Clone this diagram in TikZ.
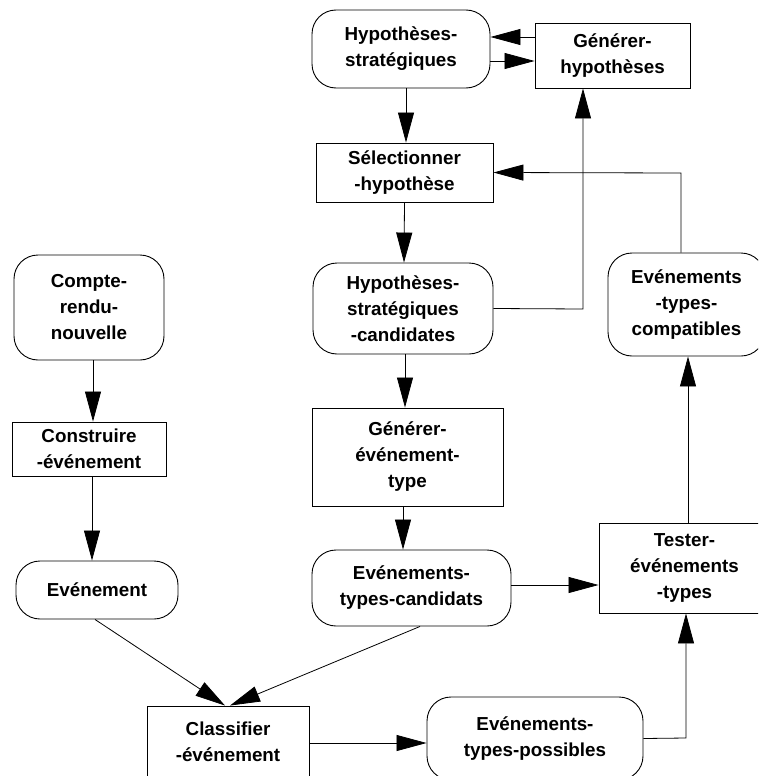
\documentclass[tikz,border=0pt]{standalone}
\usepackage{fontspec}
\newfontfamily\labfont{Liberation Sans}
\usetikzlibrary{arrows.meta,calc}
\tikzset{
  base/.style={draw=black, line width=0.9pt, align=center, inner sep=0pt,
    font=\labfont\bfseries\fontsize{18.8}{26}\selectfont},
  procbox/.style={base, rectangle},
  databox/.style={base, rectangle, rounded corners=24pt},
  conn/.style={line width=0.8pt, draw=black},
  arr/.style={conn, -{Triangle[length=30pt,width=16pt]}}
}
\begin{document}
\begin{tikzpicture}[x=1pt,y=-1pt]
\useasboundingbox (0,0) rectangle (758,776);
\clip (0,0) rectangle (758,776);
% nodes
\node[databox, minimum width=178pt, minimum height=78pt] (hs) at (401,49) {Hypothèses-\\stratégiques};
\node[procbox, minimum width=155pt, minimum height=65pt] (gh) at (612.5,55.5) {Générer-\\hypothèses};
\node[procbox, minimum width=177pt, minimum height=59pt] (sh) at (404.5,172.5) {Sélectionner\\-hypothèse};
\node[databox, minimum width=180pt, minimum height=91pt] (hsc) at (403,308.5) {Hypothèses-\\stratégiques\\-candidates};
\node[databox, minimum width=157pt, minimum height=103pt] (etc) at (686.5,304.5) {Evénements\\-types-\\compatibles};
\node[procbox, minimum width=191pt, minimum height=98pt] (get) at (407.5,457) {Générer-\\événement-\\type};
\node[databox, minimum width=199pt, minimum height=76pt] (etcand) at (411.5,588) {Evénements-\\types-candidats};
\node[procbox, minimum width=171pt, minimum height=90pt] (tst) at (684.5,568) {Tester-\\événements\\-types};
\node[databox, minimum width=150pt, minimum height=105pt] (cr) at (89,307.5) {Compte-\\rendu-\\nouvelle};
\node[procbox, minimum width=154pt, minimum height=54pt] (ce) at (89,449) {Construire\\-événement};
\node[databox, minimum width=162pt, minimum height=58pt] (ev) at (97,590) {Evénement};
\node[procbox, minimum width=162pt, minimum height=72pt] (cl) at (228,742) {Classifier\\-événement};
\node[databox, minimum width=216pt, minimum height=83pt] (etp) at (535,738.5) {Evénements-\\types-possibles};
% connectors
\draw[arr] ([yshift=18.5pt]gh.west) -- ([yshift=12pt]hs.east);
\draw[arr] ([yshift=-12pt]hs.east) -- ([yshift=-5.5pt]gh.west);
\draw[arr] ([xshift=5pt]hs.south) -- ([xshift=1.5pt]sh.north);
\draw[arr] (sh.south) -- ([xshift=1pt]hsc.north);
\coordinate (k1) at (583,309);
\draw[arr] (hsc.east) -- (k1) -- (k1 |- gh.south);
\coordinate (k2) at (681,173);
\draw[arr] ([xshift=-5.5pt]etc.north) -- (k2) -- (sh.east);
\draw[arr] ([xshift=2pt]hsc.south) -- ([xshift=-2.5pt]get.north);
\draw[arr] ([xshift=-4.5pt]get.south) -- ([xshift=-8.5pt]etcand.north);
\draw[arr] ([yshift=3pt]etcand.east) -- ([yshift=-17pt]tst.west);
\draw[arr] ([xshift=3.5pt]tst.north) -- ([xshift=1.5pt]etc.south);
\coordinate (k3) at (686,738);
\draw[arr] (etp.east) -- (k3) -- (k3 |- tst.south);
\draw[arr] ([yshift=-1pt]cl.east) -- ([yshift=-4.5pt]etp.west);
\draw[arr] ([xshift=4pt]cr.south) -- ([xshift=4pt]ce.north);
\draw[arr] ([xshift=3pt]ce.south) -- ([xshift=-5pt]ev.north);
\draw[arr] ([xshift=-2pt]ev.south) -- ([xshift=-3pt]cl.north);
\draw[arr] ([xshift=8.5pt]etcand.south) -- ([xshift=2pt]cl.north);
\end{tikzpicture}
\end{document}
